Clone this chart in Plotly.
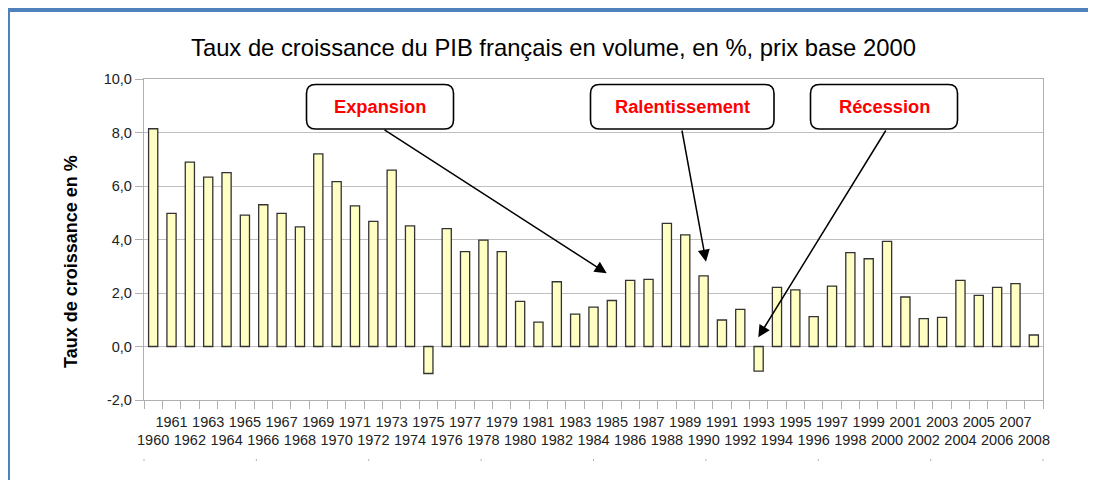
import plotly.graph_objects as go

# ---- data ----
years = [str(y) for y in range(1960, 2009)]
growth = [8.14, 4.98, 6.89, 6.33, 6.50, 4.91, 5.30, 4.98, 4.47, 7.20,
          6.16, 5.26, 4.68, 6.59, 4.51, -1.01, 4.41, 3.55, 3.98, 3.55,
          1.69, 0.91, 2.42, 1.21, 1.47, 1.72, 2.47, 2.51, 4.60, 4.17,
          2.64, 0.99, 1.39, -0.92, 2.21, 2.12, 1.12, 2.26, 3.51, 3.28,
          3.93, 1.85, 1.04, 1.09, 2.47, 1.91, 2.21, 2.35, 0.43]
x_ticktext = [y if int(y) % 2 == 1 else "<br>" + y for y in years]
y_tickvals = [-2, 0, 2, 4, 6, 8, 10]
y_ticktext = ["-2,0", "0,0", "2,0", "4,0", "6,0", "8,0", "10,0"]
title_text = "Taux de croissance du PIB français en volume, en %, prix base 2000"
ytitle_text = "Taux de croissance en %"
labels = ["Expansion", "Ralentissement", "Récession"]

# ---- geometry (screen pixels; page body has an 8px margin) ----
OFF = 8
W, H = 1096 - OFF, 480 - OFF
L, R, T, B = 144, 1043, 79, 400  # plot area in screen pixels


def px(xp):
    return (xp - L) / (R - L)


def py(yp):
    return (B - yp) / (B - T)


def rounded_box(x0, y0, x1, y1, r=8):
    pts = [f"M{px(x0 + r)},{py(y0)}",
           f"L{px(x1 - r)},{py(y0)}",
           f"Q{px(x1)},{py(y0)} {px(x1)},{py(y0 + r)}",
           f"L{px(x1)},{py(y1 - r)}",
           f"Q{px(x1)},{py(y1)} {px(x1 - r)},{py(y1)}",
           f"L{px(x0 + r)},{py(y1)}",
           f"Q{px(x0)},{py(y1)} {px(x0)},{py(y1 - r)}",
           f"L{px(x0)},{py(y0 + r)}",
           f"Q{px(x0)},{py(y0)} {px(x0 + r)},{py(y0)}",
           "Z"]
    return " ".join(pts)


fig = go.Figure()
fig.add_trace(go.Bar(
    x=years, y=growth,
    marker=dict(color="#ffffc4", line=dict(color="#333333", width=1.3)),
    width=0.5,
    hoverinfo="x+y",
))

shapes = []
# blue outer frame
shapes.append(dict(type="rect", xref="paper", yref="paper",
                   x0=px(8), x1=px(1130), y0=py(520), y1=py(10),
                   line=dict(color="#4f81bd", width=4), fillcolor="rgba(0,0,0,0)",
                   layer="above"))
# small dots below axis
for i in range(9):
    xp = L + i * (R - L) / 8
    shapes.append(dict(type="line", xref="paper", yref="paper",
                       x0=px(xp), x1=px(xp), y0=py(459), y1=py(461),
                       line=dict(color="#b0b0b0", width=1)))

boxes = [(306.5, 84.5, 453.5, 129), (590.5, 84.5, 774, 129), (810.5, 84.5, 957.5, 129)]
annotations = []
for (x0, y0, x1, y1), lab in zip(boxes, labels):
    shapes.append(dict(type="path", xref="paper", yref="paper",
                       path=rounded_box(x0, y0, x1, y1, 9),
                       line=dict(color="#000000", width=1.6), fillcolor="white",
                       layer="above"))
    annotations.append(dict(xref="paper", yref="paper", x=px((x0 + x1) / 2), y=py((y0 + y1) / 2),
                            text=f"<b>{lab}</b>", showarrow=False,
                            font=dict(family="Liberation Sans, Arial", size=18.3, color="#ff0000"),
                            xanchor="center", yanchor="middle"))

arrows = [((383, 129), (606.7, 273.3)),
          ((681.7, 129), (706, 261.7)),
          ((886.7, 129), (758.3, 337.3))]
for (tx, ty), (hx, hy) in arrows:
    annotations.append(dict(xref="paper", yref="paper", x=px(hx), y=py(hy),
                            axref="pixel", ayref="pixel", ax=tx - hx, ay=ty - hy,
                            text="", showarrow=True, arrowhead=2, arrowsize=1.6,
                            arrowwidth=1.5, arrowcolor="#000000", standoff=0, startstandoff=0))

# y axis title
annotations.append(dict(xref="paper", yref="paper", x=px(71), y=py(262),
                        text=f"<b>{ytitle_text}</b>", textangle=-90, showarrow=False,
                        font=dict(family="Liberation Sans, Arial", size=18, color="#000000"),
                        xanchor="center", yanchor="middle"))
# title
annotations.append(dict(xref="paper", yref="paper", x=px(553.4), y=py(47.5),
                        text=title_text, showarrow=False,
                        font=dict(family="Liberation Sans, Arial", size=23.8, color="#000000"),
                        xanchor="center", yanchor="middle"))

fig.update_layout(
    width=W, height=H, autosize=False,
    margin=dict(l=L - OFF, r=W - (R - OFF), t=T - OFF, b=H - (B - OFF), pad=0),
    paper_bgcolor="white", plot_bgcolor="white",
    showlegend=False,
    bargap=0.5,
    font=dict(family="Liberation Sans, Arial", color="#222222"),
    shapes=shapes,
    annotations=annotations,
)
fig.update_xaxes(
    type="category", tickmode="array", tickvals=years, ticktext=x_ticktext,
    tickson="boundaries", ticks="outside", ticklen=8, tickcolor="#b0b0b0", tickwidth=1,
    showgrid=False, showline=True, linecolor="#b0b0b0", linewidth=1.3, mirror=True,
    tickangle=0, tickfont=dict(size=14.5, color="#222222"), range=[-0.5, 48.5],
    ticklabelstandoff=8,
)
fig.update_yaxes(
    range=[-2, 10], tickmode="array", tickvals=y_tickvals, ticktext=y_ticktext,
    ticks="outside", ticklen=8, tickcolor="#b0b0b0", tickwidth=1,
    showgrid=True, gridcolor="#c0c0c0", gridwidth=1.3,
    showline=True, linecolor="#b0b0b0", linewidth=1.3, mirror=True,
    zeroline=False, tickfont=dict(size=14.5, color="#222222"),
)

fig.write_html("out.html")
